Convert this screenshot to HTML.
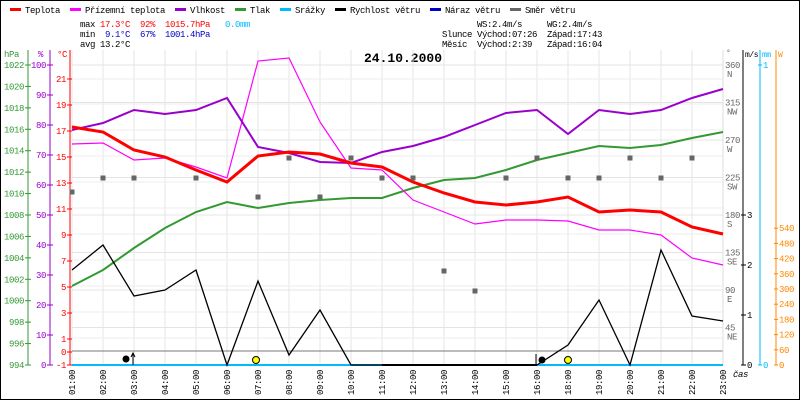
<!DOCTYPE html>
<html><head><meta charset="utf-8"><style>
body{margin:0;background:#fff}
svg{display:block;font-family:"Liberation Mono","DejaVu Sans Mono",monospace;font-size:9px;letter-spacing:-0.4px}
</style></head><body>
<svg id="s" width="800" height="400" viewBox="0 0 800 400" xmlns="http://www.w3.org/2000/svg"></svg>
<script>
const s=document.getElementById('s');let h='';
h+='<rect x="0.5" y="0.5" width="799" height="399" fill="#fff" stroke="#000"/>';
const leg=[[25,'#f00','Teplota'],[85,'#f0f','Přízemní teplota'],[190,'#90c','Vlhkost'],[250,'#393','Tlak'],[295,'#0bf','Srážky'],[350,'#000','Rychlost větru'],[445,'#00c','Náraz větru'],[525,'#666','Směr větru']];
leg.forEach(l=>{h+=`<rect x="${l[0]-15}" y="8" width="11" height="3" fill="${l[1]}"/><text x="${l[0]}" y="13">${l[2]}</text>`});
const T=(x,y,t,c)=>h+=`<text x="${x}" y="${y}"${c?` fill="${c}"`:''}>${t}</text>`;
T(80,27,'max');T(100,27,'17.3°C','#f00');T(140,27,'92%','#f00');T(165,27,'1015.7hPa','#f00');T(225,27,'0.0mm','#0bf');
T(80,37,'min');T(105,37,'9.1°C','#00c');T(140,37,'67%','#00c');T(165,37,'1001.4hPa','#00c');
T(80,47,'avg');T(100,47,'13.2°C');
T(477,27,'WS:2.4m/s');T(547,27,'WG:2.4m/s');
T(442,37,'Slunce');T(477,37,'Východ:07:26');T(547,37,'Západ:17:43');
T(442,47,'Měsíc');T(477,47,'Východ:2:39');T(547,47,'Západ:16:04');
h+=`<text x="364" y="62" font-weight="bold" font-size="13" letter-spacing="0">24.10.2000</text>`;
const X=i=>72+i*31;
for(let i=0;i<22;i++)h+=`<line x1="${X(i)}" y1="50" x2="${X(i)}" y2="365" stroke="#e4e4e4"/>`;
for(let k=0;k<8;k++){const y=65+k*37.5;h+=`<line x1="72" y1="${y}" x2="723" y2="${y}" stroke="#e4e4e4"/>`}
[79,104,130,156,182,208,234,260,286,312,338].forEach(y=>h+=`<line x1="72" y1="${y}" x2="723" y2="${y}" stroke="#eee"/>`);
h+=`<line x1="72" y1="351" x2="723" y2="351" stroke="#777"/>`;
h+=`<line x1="723" y1="50" x2="723" y2="365" stroke="#ddd"/>`;
h+=`<line x1="28" y1="50" x2="28" y2="365" stroke="#393"/><line x1="50" y1="50" x2="50" y2="365" stroke="#90c"/><line x1="70" y1="50" x2="70" y2="365" stroke="#f00"/>`;
h+=`<text x="4" y="57" fill="#393">hPa</text><text x="38" y="57" fill="#90c">%</text><text x="57" y="57" fill="#f00">°C</text>`;
for(let p=994;p<=1022;p+=2){const y=365-(p-994)*300/28;h+=`<line x1="25" y1="${y}" x2="31" y2="${y}" stroke="#393"/><text x="24" y="${y+3}" text-anchor="end" fill="#393">${p}</text>`}
for(let p=0;p<=100;p+=10){const y=365-p*3;h+=`<line x1="47" y1="${y}" x2="53" y2="${y}" stroke="#90c"/><text x="46" y="${y+3}" text-anchor="end" fill="#90c">${p}</text>`}
[-1,0,1,3,5,7,9,11,13,15,17,19,21].forEach(t=>{const y=365-(t+1)*13;h+=`<line x1="67" y1="${y}" x2="72" y2="${y}" stroke="#f00"/><text x="66" y="${y+3}" text-anchor="end" fill="#f00">${t}</text>`});
const dn=['','NE','E','SE','S','SW','W','NW','N'];
for(let k=1;k<=8;k++){const y=365-k*37.5;h+=`<text x="725" y="${y+3}" fill="#666">${k*45}</text><text x="727" y="${y+12}" fill="#666">${dn[k]}</text>`}
h+=`<text x="726" y="55" fill="#666" font-size="8">°</text>`;
h+=`<line x1="743" y1="50" x2="743" y2="365" stroke="#000"/><line x1="760" y1="50" x2="760" y2="365" stroke="#0bf"/><line x1="776" y1="50" x2="776" y2="365" stroke="#f80"/>`;
h+=`<text x="745" y="57" font-size="8">m/s</text><text x="762" y="57" fill="#0bf" font-size="8">mm</text><text x="778" y="57" fill="#f80" font-size="8">W</text>`;
for(let k=0;k<=3;k++){const y=365-k*50;h+=`<line x1="741" y1="${y}" x2="746" y2="${y}" stroke="#000"/><text x="747" y="${y+3}">${k}</text>`}
h+=`<line x1="758" y1="365" x2="762" y2="365" stroke="#0bf"/><text x="763" y="368" fill="#0bf">0</text><line x1="758" y1="65" x2="762" y2="65" stroke="#0bf"/><text x="763" y="68" fill="#0bf">1</text>`;
for(let k=0;k<=9;k++){const y=365-k*15.2;h+=`<line x1="774" y1="${y}" x2="778" y2="${y}" stroke="#f80"/><text x="779" y="${y+3}" fill="#f80">${k?k*60:0}</text>`}
const lb=['01','02','03','04','05','06','07','08','09','10','11','12','13','14','15','16','18','19','20','21','22','23'];
lb.forEach((l,i)=>h+=`<text transform="translate(${X(i)+3},395) rotate(-90)">${l}:00</text>`);
h+=`<text x="733" y="377" font-style="italic">čas</text>`;
const P=(a,c,w)=>h+=`<polyline fill="none" stroke="${c}" stroke-width="${w}" points="${a.map((y,i)=>X(i)+','+y).join(' ')}"/>`;
P([286,270,248,228,212,202,208,203,200,198,198,188,180,178,170,160,153,146,148,145,138,132],'#393',2);
P([144,143,160,158,167,178,61,58,122,168,170,200,212,224,220,220,221,230,230,235,258,265],'#f0f',1.2);
P([130,123,110,114,110,98,147,153,162,163,152,146,137,125,113,110,134,110,114,110,98,89],'#90c',2);
P([127,132,150,157,170,182,156,152,154,163,167,182,193,202,205,202,197,212,210,212,227,234],'#f00',3);
h+=`<line x1="72" y1="365" x2="723" y2="365" stroke="#0bf" stroke-width="2"/>`;
P([270,245,296,290,270,365,281,355,310,365,365,365,365,365,365,365,345,300,365,250,316,321],'#000',1.3);
h+=`<line x1="382" y1="365" x2="537" y2="365" stroke="#000" stroke-width="2"/>`;
const sq=[[0,192],[1,178],[2,178],[4,178],[6,197],[7,158],[8,197],[9,158],[10,178],[11,178],[12,271],[13,291],[14,178],[15,158],[16,178],[17,178],[18,158],[19,178],[20,158]];
sq.forEach(q=>h+=`<rect x="${X(q[0])-2.5}" y="${q[1]-2.5}" width="5" height="5" fill="#666"/>`);
h+=`<circle cx="126" cy="359" r="3.5" fill="#000"/><line x1="133" y1="365" x2="133" y2="354" stroke="#000"/><path d="M131,357 L133,353 L135,357" fill="none" stroke="#000"/>`;
h+=`<circle cx="542" cy="360" r="3.5" fill="#000"/><line x1="536" y1="365" x2="536" y2="354" stroke="#000"/>`;
h+=`<circle cx="256" cy="360" r="3.5" fill="#ff0" stroke="#000"/><circle cx="568" cy="360" r="3.5" fill="#ff0" stroke="#000"/>`;
s.innerHTML=h;
</script>
</body></html>
